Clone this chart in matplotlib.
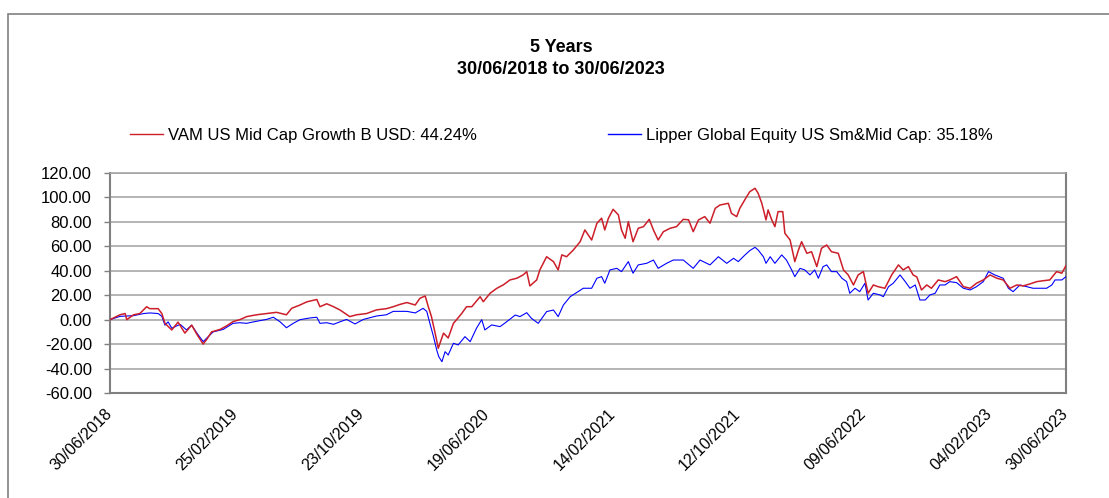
import matplotlib
matplotlib.use("Agg")
import matplotlib.pyplot as plt
from matplotlib.lines import Line2D
from matplotlib.patches import Rectangle
import pandas as pd

plt.rcParams['font.family'] = ['Liberation Sans', 'DejaVu Sans']

title_line1 = "5 Years"
title_line2 = "30/06/2018 to 30/06/2023"
start_date = "2018-06-30"
end_date = "2023-06-30"

red_label = "VAM US Mid Cap Growth B USD: 44.24%"
blue_label = "Lipper Global Equity US Sm&Mid Cap: 35.18%"

# days elapsed since 30/06/2018, and cumulative % performance
red_days = [0, 19, 29, 32, 45, 57, 70, 76, 92, 99, 105, 118, 130, 143, 156, 166, 178, 185, 194,
            210, 223, 235, 248, 261, 280, 299, 318, 337, 347, 363, 376, 395, 401, 414, 427, 439,
            458, 471, 490, 509, 528, 541, 554, 567, 583, 592, 602, 608, 614, 621, 627, 637, 646,
            656, 662, 672, 681, 691, 707, 713, 726, 739, 751, 764, 777, 789, 796, 802, 815, 821,
            834, 847, 856, 863, 872, 885, 898, 907, 920, 930, 939, 945, 952, 961, 971, 977, 984,
            990, 999, 1009, 1019, 1030, 1038, 1047, 1057, 1070, 1082, 1095, 1105, 1114, 1124,
            1136, 1146, 1156, 1165, 1181, 1187, 1197, 1203, 1216, 1222, 1232, 1238, 1245, 1253,
            1257, 1264, 1270, 1276, 1285, 1289, 1299, 1308, 1315, 1321, 1331, 1340, 1350, 1359,
            1369, 1378, 1391, 1401, 1410, 1420, 1429, 1439, 1448, 1458, 1467, 1480, 1493, 1506,
            1515, 1525, 1534, 1541, 1550, 1560, 1569, 1582, 1595, 1604, 1617, 1630, 1643, 1655,
            1668, 1681, 1694, 1706, 1719, 1732, 1744, 1757, 1770, 1783, 1795, 1808, 1818, 1826]
red_vals = [0, 4, 5, 0, 4, 5, 10.6, 9, 9, 5, -3, -8.4, -2, -11, -4.5, -12, -20, -16, -10,
            -8, -5, -1.6, 0, 2.5, 4, 5, 6, 4, 9.3, 12, 14.6, 16.5, 10.6, 13, 10.6, 8,
            2.5, 4, 5, 8, 9, 10.6, 12.5, 14, 12, 17.5, 19.4, 10.6, 2.5, -11, -23.4, -11, -15,
            -3, 0, 5.2, 10.6, 10.6, 18.8, 14.7, 21.6, 25.7, 28.4, 32.5, 33.9, 36.6, 39.3, 27.6, 32.5, 40.7,
            51.5, 47.5, 40.7, 53, 51.5, 57, 63.8, 73.4, 65.2, 78.9, 83, 73.4, 83, 90.3, 85.7, 73.4, 66.6,
            80.2, 63.8, 74.8, 76.1, 82.1, 73.4, 65.2, 72, 74.8, 76.1, 82.1, 81.7, 72, 81.6,
            84.3, 78.9, 91.1, 93.8, 95.2, 87, 84.3, 91.1, 100.6, 104.7, 107.5, 103.4, 95.2, 81.6,
            89.8, 81.6, 76.1, 88.4, 88.4, 70.7, 65.2, 47.5, 57, 63.8, 54.3, 55.6, 43.4, 58.4,
            61.1, 55.6, 54.3, 40.7, 36.6, 28.4, 36.6, 39.3, 21.6, 28.4, 27, 25.7, 36.6, 44.8,
            40.7, 43.4, 36.6, 35, 24.3, 28.4, 25.7, 32.5, 31.1, 32.5, 35.2, 27, 25.7, 29.8,
            32.5, 36.6, 33.9, 32.5, 25.7, 28.4, 27.6, 29.2, 31.1, 31.9, 32.5, 39.3, 38, 44.24]

blue_days = [0, 19, 45, 64, 76, 92, 99, 105, 111, 118, 134, 146, 156, 166, 178, 185, 197, 216,
             235, 248, 261, 274, 299, 312, 325, 337, 350, 363, 382, 395, 401, 414, 427, 439,
             452, 468, 484, 509, 528, 541, 554, 567, 583, 598, 605, 611, 618, 624, 628, 634, 640,
             646, 656, 665, 678, 688, 700, 710, 716, 729, 745, 758, 774, 783, 796, 805, 818,
             834, 847, 856, 866, 879, 894, 904, 920, 930, 939, 945, 955, 968, 977, 990, 999,
             1009, 1025, 1038, 1047, 1063, 1076, 1095, 1114, 1127, 1146, 1162, 1178, 1191, 1200,
             1213, 1222, 1232, 1238, 1248, 1253, 1261, 1270, 1283, 1292, 1302, 1308, 1318, 1327,
             1337, 1346, 1353, 1362, 1369, 1378, 1388, 1398, 1407, 1413, 1423, 1432, 1442, 1448,
             1458, 1471, 1477, 1487, 1496, 1509, 1519, 1528, 1538, 1547, 1557, 1566, 1576, 1585,
             1595, 1604, 1617, 1630, 1643, 1655, 1668, 1678, 1690, 1706, 1716, 1725, 1738, 1751,
             1763, 1776, 1789, 1799, 1805, 1818, 1826]
blue_vals = [0, 2.7, 3.3, 5, 5.5, 5, 2.7, -4.5, -1.8, -7, -3.8, -8.4, -4.5, -11, -18, -15, -10, -8,
             -3, -2.5, -3, -1.8, 0.2, 2, -1.8, -6.6, -3, 0, 1.4, 2, -3, -2.5, -3.8, -1.8,
             0.2, -3.5, 0.2, 3, 4, 6.8, 6.8, 6.8, 5.5, 9.3, 6.8, -3, -14, -24.8, -30.3, -34.4, -26.2,
             -28.9, -19.3, -20.7, -13.9, -18, -7, 0, -8.4, -4.3, -5.7, -1.6, 3.8, 2.5, 5.7, 1.1, -3,
             6.6, 7.9, 2.5, 12, 18.8, 22.9, 25.7, 25.7, 33.9, 35.2, 29.8, 40.7, 42, 39.3, 47.5, 38,
             44.8, 46.1, 48.8, 42, 46.1, 48.8, 48.8, 42, 48.8, 44.8, 51.5, 46.1, 50.2, 47.5,
             53, 56.5, 59.2, 57, 51.5, 46.1, 51.5, 46.1, 53, 48.8, 40.7, 35.2, 42, 40.7,
             36.6, 40.7, 33.9, 43.4, 44.8, 39.3, 39.3, 33.9, 31.1, 21.6, 25.7, 22.9, 29.8, 16.1,
             21.6, 20.2, 18.8, 27, 29.8, 36.6, 31.1, 25.7, 28.4, 16.1, 16.1, 20.2, 21.6, 28.4,
             28.4, 31.1, 30.3, 25.7, 24.3, 27, 31.1, 39.3, 36.6, 33.9, 25.7, 22.9, 28.4, 27,
             25.7, 25.7, 25.7, 28.4, 32.5, 32.5, 35.18]

tick_dates = ["2018-06-30", "2019-02-25", "2019-10-23", "2020-06-19", "2021-02-14",
              "2021-10-12", "2022-06-09", "2023-02-04", "2023-06-30"]
y_ticks = [-60, -40, -20, 0, 20, 40, 60, 80, 100, 120]

red_color = "#CC1F2A"
blue_color = "#0000FF"
grid_color = "#A0A0A0"
spine_color = "#808080"

t0 = pd.Timestamp(start_date)
red_x = t0 + pd.to_timedelta(red_days, unit="D")
blue_x = t0 + pd.to_timedelta(blue_days, unit="D")

W, H = 1109, 498
fig = plt.figure(figsize=(W / 100, H / 100), dpi=100)
fig.patch.set_facecolor("white")

# outer frame
fig.patches.append(Rectangle((8 / W, -0.2), 1.2, 1.2 - 14 / H, transform=fig.transFigure,
                             fill=False, edgecolor=spine_color, linewidth=1.2))

ax = fig.add_axes([110 / W, 1 - 393 / H, (1066 - 110) / W, (393 - 173) / H])
ax.plot(blue_x, blue_vals, color=blue_color, linewidth=0.8, zorder=3)
ax.plot(red_x, red_vals, color=red_color, linewidth=1.1, zorder=4)

ax.set_xlim(pd.Timestamp(start_date), pd.Timestamp(end_date))
ax.set_ylim(-60, 120)
ax.set_yticks(y_ticks)
ax.set_yticklabels([f"{v:.2f}" for v in y_ticks], fontsize=12)
ax.yaxis.grid(True, color=grid_color, linewidth=1.1)
ax.set_axisbelow(True)

td = [pd.Timestamp(d) for d in tick_dates]
ax.set_xticks(td)
ax.set_xticklabels([d.strftime("%d/%m/%Y") for d in td], rotation=45, ha="right",
                   va="center", rotation_mode="anchor", fontsize=11.5)
ax.tick_params(axis="x", length=0, pad=13)
ax.tick_params(axis="y", length=4, width=1, color=spine_color, pad=9)

for s in ["left", "bottom", "right"]:
    ax.spines[s].set_color(spine_color)
    ax.spines[s].set_linewidth(1.5)
ax.spines["top"].set_color(grid_color)
ax.spines["top"].set_linewidth(1.1)

fig.text(561 / W, 1 - 47 / H, title_line1, ha="center", va="center", fontsize=13, fontweight="bold")
fig.text(561 / W, 1 - 69 / H, title_line2, ha="center", va="center", fontsize=13, fontweight="bold")

h_red = Line2D([], [], color=red_color, linewidth=1.0)
h_blue = Line2D([], [], color=blue_color, linewidth=1.0)
for h, lab, x0 in [(h_red, red_label, 130), (h_blue, blue_label, 608)]:
    fig.legend([h], [lab], loc="center left", bbox_to_anchor=(x0 / W, 1 - 135 / H),
               frameon=False, fontsize=12, handlelength=2.0, handletextpad=0.25,
               borderpad=0, borderaxespad=0)

fig.savefig("out.png", dpi=100)
